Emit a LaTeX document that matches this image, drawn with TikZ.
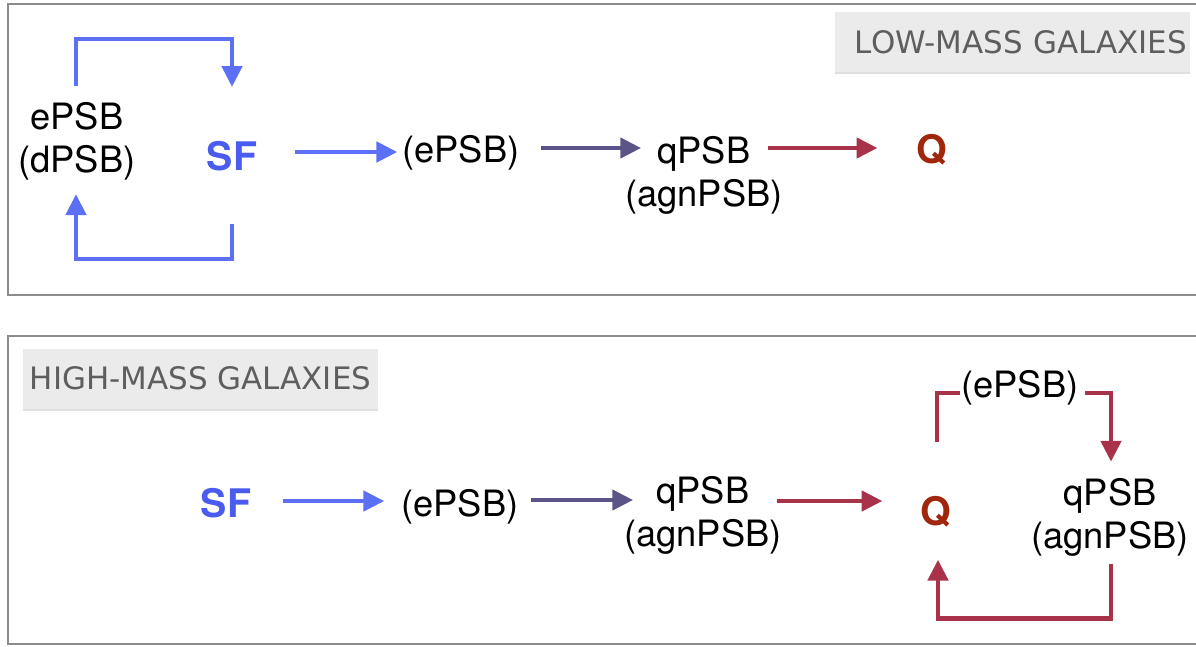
\documentclass[tikz,border=0pt]{standalone}
\usepackage{fontspec}
\setmainfont{TeX Gyre Heros}
\newfontfamily\tagfont{DejaVu Sans}
\usetikzlibrary{arrows.meta, calc, shadows}
\definecolor{sfblue}{RGB}{74, 92, 240}
\definecolor{flowblue}{RGB}{92, 112, 246}
\definecolor{flowpurple}{RGB}{91, 84, 134}
\definecolor{flowred}{RGB}{168, 50, 73}
\definecolor{qred}{RGB}{160, 38, 12}
\definecolor{framegray}{RGB}{140, 140, 140}
\definecolor{tagfill}{RGB}{236, 235, 235}
\definecolor{taggray}{RGB}{94, 94, 94}

\begin{document}
\begin{tikzpicture}[x=0.025cm, y=-0.025cm,
    txt/.style={inner sep=0pt, align=center, font=\fontsize{25.8pt}{30.6pt}\selectfont},
    phase/.style={inner sep=0pt, font=\fontsize{28pt}{32pt}\selectfont\bfseries},
    wire/.style={line width=3.2pt},
    flow/.style={wire, -{Triangle[length=0.52cm, width=0.5cm]}},
    tag/.style={fill=tagfill, text=taggray, minimum width=8.875cm, minimum height=1.5cm,
                inner xsep=0.075cm, font=\tagfont\fontsize{22pt}{26pt}\selectfont,
                drop shadow={shadow xshift=0.3pt, shadow yshift=-1.6pt, opacity=0.25}},
    frame/.style={draw=framegray, line width=1.9pt}]
    \useasboundingbox (0,0) rectangle (1196,646);

    % panels
    \draw[frame] (1196,4) -- (8,4) -- (8,295) -- (1196,295);
    \draw[frame] (1196,336) -- (8,336) -- (8,644) -- (1196,644);

    % low mass
    \node[tag, text width=8.725cm, align=right] (lowtag) at (1012.5,42) {LOW-MASS GALAXIES};
    \node[txt] (burst) at (77,141) {ePSB\\(dPSB)};
    \node[phase, text=sfblue] (sfl) at (232,156) {SF};
    \node[txt] (el) at (461,153) {(ePSB)};
    \node[txt] (ql) at (704,175) {qPSB\\(agnPSB)};
    \node[phase, text=qred] (Ql) at (932,150) {Q};

    \draw[flow, flowblue] ($(sfl.east)+(38,-4)$) -- ($(el.west)+(-5,-1)$);
    \draw[flow, flowpurple] ($(el.east)+(21,-5)$) -- ($(ql.west)+(16,-27)$);
    \draw[flow, flowred] ($(ql.east)+(-15,-27)$) -- ($(Ql.west)+(-39,-2)$);
    \draw[flow, flowblue] ($(burst.north)+(-1,-16)$) -- ++(0,-47) -| ($(sfl.north)+(0,-54)$);
    \draw[flow, flowblue] ($(sfl.south)+(0,53)$) -- ++(0,35) -| ($(burst.south)+(-1,14)$);

    % high mass
    \node[tag, align=center] (hightag) at (200.5,378.5) {HIGH-MASS GALAXIES};
    \node[phase, text=sfblue] (sfh) at (226,503) {SF};
    \node[txt] (eh) at (460,507) {(ePSB)};
    \node[txt] (qh) at (703,515) {qPSB\\(agnPSB)};
    \node[phase, text=qred] (Qh) at (936,512) {Q};
    \node[txt] (eloop) at (1020,388) {(ePSB)};
    \node[txt] (qloop) at (1110,517) {qPSB\\(agnPSB)};

    \draw[flow, flowblue] ($(sfh.east)+(32,-2)$) -- ($(eh.west)+(-17,-6)$);
    \draw[flow, flowpurple] ($(eh.east)+(12,-7)$) -- ($(qh.west)+(9,-15)$);
    \draw[flow, flowred] ($(qh.east)+(-5,-14)$) -- ($(Qh.west)+(-38,-11)$);
    \draw[wire, flowred] ($(Qh.north)+(1,-54)$) |- ($(eloop.west)+(-1,5)$);
    \draw[flow, flowred] ($(eloop.east)+(6,5)$) -| ($(qloop.north)+(1,-16)$);
    \draw[flow, flowred] ($(qloop.south)+(1,8)$) -- ++(0,54) -| ($(Qh.south)+(2,32)$);
\end{tikzpicture}
\end{document}
